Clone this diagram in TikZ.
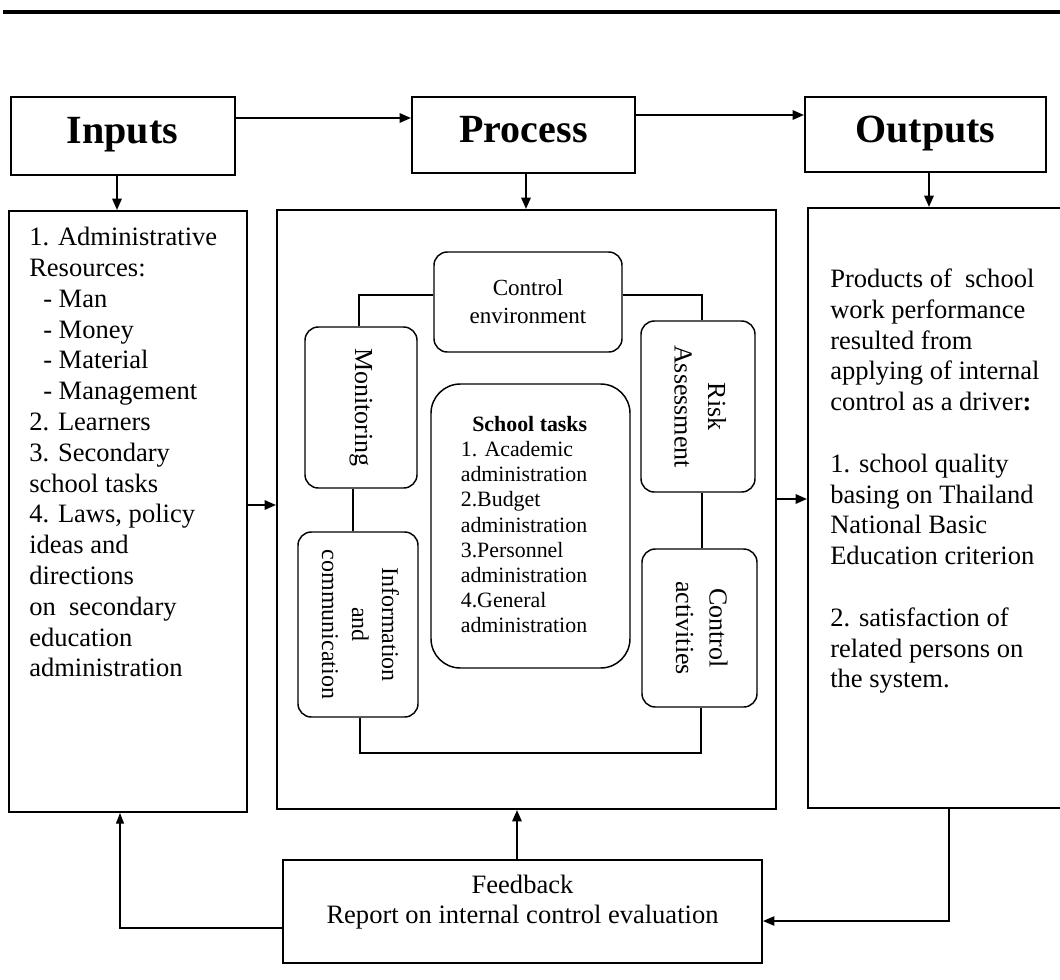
\documentclass[tikz,border=0pt]{standalone}
\usepackage{fontspec}
\setmainfont{Liberation Serif}
\usepackage{graphicx}
\usetikzlibrary{arrows.meta}
\newcommand\pxu{0.75pt}
\tikzset{
  tbox/.style={draw, line width=1.5pt, inner sep=0pt, text height=21pt, text depth=9.75pt, font=\fontsize{30}{34}\selectfont\bfseries},
  cbox/.style={draw, line width=1.5pt, inner sep=0pt},
  rbox/.style={draw, line width=1.1pt, rounded corners=10pt, inner sep=0pt},
  conn/.style={line width=1.1pt},
  arr/.style={line width=1.5pt, -{Triangle[length=8.5pt,width=7pt]}},
  tarr/.style={line width=0.9pt, -{Triangle[length=8pt,width=6pt]}},
  marr/.style={line width=1.1pt, -{Triangle[length=8.5pt,width=7pt]}},
  bodytxt/.style={inner sep=0pt, align=left, anchor=north west, font=\fontsize{19.9}{23.1}\selectfont},
  rotf/.style={font=\fontsize{19.5}{25}\selectfont},
}
\begin{document}
\begin{tikzpicture}[x=0.75pt,y=-0.75pt]
\useasboundingbox (0,0) rectangle (1060,979);
% top rule
\draw[line width=2.4pt] (3,12) -- (1060,12);

% title boxes
\node[tbox, minimum width=224*\pxu, minimum height=78*\pxu] (inT) at (122.5,135.5) {Inputs};
\node[tbox, minimum width=223*\pxu, minimum height=76*\pxu] (prT) at (523.5,135) {Process};
\node[tbox, minimum width=241*\pxu, minimum height=75*\pxu] (ouT) at (925.5,134.5) {Outputs};

% content boxes
\node[cbox, minimum width=238*\pxu, minimum height=601*\pxu] (inB) at (128,511.5) {};
\node[cbox, minimum width=499*\pxu, minimum height=599*\pxu] (prB) at (526.5,509.5) {};
\node[cbox, minimum width=258*\pxu, minimum height=600*\pxu] (ouB) at (937,508) {};

% inputs text
\node[bodytxt] (inTx) at (29,227) {1. Administrative\\Resources:\\\hspace*{10.5pt}- Man\\\hspace*{10.5pt}- Money\\\hspace*{10.5pt}- Material\\\hspace*{10.5pt}- Management\\2. Learners\\3. Secondary\\school tasks\\4. Laws, policy\\ideas and\\directions\\on~~secondary\\education\\administration};

% outputs text
\node[bodytxt] (ouTx) at (830,268.5) {Products of~~school\\work performance\\resulted from\\applying of internal\\control as a driver\textbf{:}\\[23.1pt]1. school quality\\basing on Thailand\\National Basic\\Education criterion\\[23.1pt]2. satisfaction of\\related persons on\\the system.};

% process inner boxes
\node[rbox, minimum width=188*\pxu, minimum height=100*\pxu, align=center, font=\fontsize{17.3}{21}\selectfont] (ce) at (528,302) {Control\\environment};
\node[rbox, minimum width=112*\pxu, minimum height=161*\pxu, rotf] (mon) at (361,407.5) {\rotatebox[origin=c]{-90}{Monitoring}};
\node[rbox, minimum width=114*\pxu, minimum height=171*\pxu, rotf] (risk) at (698,406.5) {\rotatebox[origin=c]{-90}{\begin{tabular}{@{}c@{}}Risk\\Assessment\end{tabular}}};
\node[rbox, rounded corners=22pt, minimum width=199*\pxu, minimum height=284*\pxu] (st) at (530.5,526) {};
\node[inner sep=0pt, font=\fontsize{16.4}{18.8}\selectfont] (stT) at (524,527) {\begin{tabular}{@{}l@{}}\multicolumn{1}{@{}r@{}}{\textbf{School tasks}}\\1. Academic\\administration\\2.Budget\\administration\\3.Personnel\\administration\\4.General\\administration\end{tabular}};
\node[rbox, minimum width=120*\pxu, minimum height=185*\pxu, font=\fontsize{18}{22.5}\selectfont] (info) at (358,624.5) {\rotatebox[origin=c]{-90}{\begin{tabular}{@{}c@{}}Information\\and\\communication\end{tabular}}};
\node[rbox, minimum width=115*\pxu, minimum height=158*\pxu, rotf] (ca) at (699.5,628) {\rotatebox[origin=c]{-90}{\begin{tabular}{@{}c@{}}Control\\activities\end{tabular}}};

% inner connectors
\draw[conn] (ce.west |- 0,295) -| (mon.north -| 359,0);
\draw[conn] (ce.east |- 0,295) -| (risk.north -| 702,0);
\draw[conn] (mon.south -| 353,0) -- (info.north -| 353,0);
\draw[conn] (risk.south -| 702,0) -- (ca.north -| 702,0);
\draw[conn] (info.south -| 360,0) |- (701,753) -- (ca.south -| 701,0);

% feedback
\node[cbox, minimum width=479*\pxu, minimum height=103*\pxu] (fb) at (522.5,911.5) {};
\node[inner sep=0pt, align=center, font=\fontsize{19.9}{22.5}\selectfont] (fbT) at (522.5,902) {Feedback\\Report on internal control evaluation};

% main arrows
\draw[arr] (inT.east |- 0,118) -- (prT.west |- 0,118);
\draw[arr] (prT.east |- 0,115) -- (ouT.west |- 0,115);
\draw[arr] (inT.south -| 117,0) -- (inB.north -| 117,0);
\draw[arr] (prT.south -| 526,0) -- (prB.north -| 526,0);
\draw[arr] (ouT.south -| 929,0) -- (ouB.north -| 929,0);
\draw[arr] (inB.east |- 0,505) -- (prB.west |- 0,505);
\draw[arr] (prB.east |- 0,499) -- (ouB.west |- 0,499);
\draw[arr] (fb.north -| 517,0) -- (prB.south -| 517,0);
\draw[tarr] (fb.west |- 0,928) -| (inB.south -| 120,0);
\draw[marr] (ouB.south -| 949,0) |- (fb.east |- 0,921);
\end{tikzpicture}
\end{document}
